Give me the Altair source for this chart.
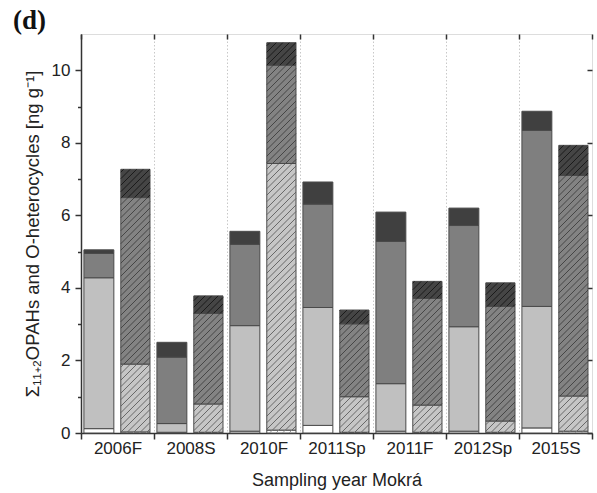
import math
import altair as alt
import pandas as pd

# ---------------- data ----------------
categories = ["2006F", "2008S", "2010F", "2011Sp", "2011F", "2012Sp", "2015S"]
components = ["white", "light", "mid", "dark"]

# segment heights [ng g-1], plain (left) bars
left_white = [0.12, 0.02, 0.05, 0.21, 0.05, 0.05, 0.14]
left_light = [4.16, 0.24, 2.91, 3.25, 1.31, 2.88, 3.35]
left_mid = [0.67, 1.83, 2.24, 2.85, 3.92, 2.79, 4.85]
left_dark = [0.10, 0.41, 0.36, 0.61, 0.81, 0.48, 0.53]

# segment heights [ng g-1], hatched (right) bars
right_white = [0.03, 0.02, 0.08, 0.02, 0.02, 0.02, 0.05]
right_light = [1.87, 0.78, 7.35, 0.98, 0.75, 0.31, 0.97]
right_mid = [4.59, 2.50, 2.71, 2.01, 2.94, 3.16, 6.08]
right_dark = [0.78, 0.48, 0.62, 0.38, 0.47, 0.65, 0.83]

# ---------------- layout / style ----------------
W, H = 511, 399
YMAX = 11
NCAT = len(categories)
sx = W / NCAT
sy = H / YMAX
HATCH = 6.5  # px between hatch lines (horizontal)

side_pos = {"L": (0.04, 0.45), "R": (0.545, 0.945)}
fill_cols = {
    "L-white": "#ffffff", "L-light": "#c0c0c0", "L-mid": "#7f7f7f", "L-dark": "#404040",
    "R-white": "#ffffff", "R-light": "#c6c6c6", "R-mid": "#838383", "R-dark": "#454545",
}
hatch_cols = {"white": "#8a8a8a", "light": "#5e5e5e", "mid": "#3e3e3e", "dark": "#161616"}

series = {
    "L": [left_white, left_light, left_mid, left_dark],
    "R": [right_white, right_light, right_mid, right_dark],
}

rows = []
hrows = []
for i, cat in enumerate(categories):
    for side in ["L", "R"]:
        a, b = side_pos[side]
        x0, x1 = i + a, i + b
        base = 0.0
        for comp, arr in zip(components, series[side]):
            top = base + arr[i]
            rows.append({"cat": cat, "key": f"{side}-{comp}", "x0": x0, "x1": x1,
                         "y0": base, "y1": top})
            if side == "R":
                X0, X1, Y0, Y1 = x0 * sx, x1 * sx, base * sy, top * sy
                k0 = math.ceil((X0 - Y1) / HATCH)
                k1 = math.floor((X1 - Y0) / HATCH)
                for k in range(k0, k1 + 1):
                    c = k * HATCH
                    ya = max(Y0, X0 - c)
                    yb = min(Y1, X1 - c)
                    if yb - ya > 0.3:
                        hrows.append({"hk": comp,
                                      "hx0": (c + ya) / sx, "hx1": (c + yb) / sx,
                                      "hy0": ya / sy, "hy1": yb / sy})
            base = top

bars_df = pd.DataFrame(rows)
hatch_df = pd.DataFrame(hrows)

FONT = "Liberation Sans"
label_arr = "[" + ",".join(f"'{c}'" for c in categories) + "]"

xscale = alt.Scale(domain=[0, NCAT], nice=False, zero=False)
yscale = alt.Scale(domain=[0, YMAX], nice=False)

bottom_axis = alt.Axis(
    values=[v / 2 for v in range(0, 2 * NCAT + 1)],
    labelExpr=f"datum.value % 1 === 0 ? '' : {label_arr}[floor(datum.value)]",
    tickOpacity={"condition": {"test": "datum.value % 1 === 0", "value": 1}, "value": 0},
    grid=True,
    gridDash=[1.5, 2],
    gridColor="#c8c8c8",
    gridWidth=1,
    gridOpacity={"condition": {"test": "datum.value % 1 === 0 && datum.value > 0 && datum.value < 7",
                               "value": 1}, "value": 0},
    tickSize=6, tickWidth=1.5, tickColor="#333333",
    domainColor="#333333", domainWidth=1.5,
    labelFont=FONT, labelFontSize=17, labelColor="#222222", labelPadding=1,
    labelFlush=False, labelOverlap=False,
    title="Sampling year Mokrá", titleFont=FONT, titleFontSize=18,
    titleFontWeight="normal", titleColor="#222222",
    titleY=52, titleBaseline="alphabetic",
)

left_axis = alt.Axis(
    values=list(range(0, 11)),
    labelExpr="datum.value % 2 === 0 ? datum.label : ''",
    tickSize={"condition": {"test": "datum.value % 2 === 0", "value": 6}, "value": 3.5},
    tickWidth=1.5, tickColor="#333333",
    domainColor="#333333", domainWidth=1.5,
    grid=False,
    labelFont=FONT, labelFontSize=17, labelColor="#222222", labelPadding=5,
    labelFlush=False, labelOverlap=False,
    title="Σ₁₁₊₂OPAHs and O-heterocycles [ng g⁻¹]", titleFont=FONT, titleFontSize=18.5,
    titleFontWeight="normal", titleColor="#222222",
    titleX=-49, titleY=H / 2, titleAngle=270, titleAlign="center", titleBaseline="middle",
)

bars = alt.Chart(bars_df).mark_rect(stroke="#4a4a4a", strokeWidth=1).encode(
    x=alt.X("x0:Q", scale=xscale, axis=bottom_axis),
    x2="x1:Q",
    y=alt.Y("y0:Q", scale=yscale, axis=left_axis),
    y2="y1:Q",
    fill=alt.Fill("key:N", scale=alt.Scale(domain=list(fill_cols.keys()),
                                           range=list(fill_cols.values())), legend=None),
)

hatch = alt.Chart(hatch_df).mark_rule(strokeWidth=0.9).encode(
    x=alt.X("hx0:Q", scale=xscale,
            axis=alt.Axis(orient="top", values=list(range(0, NCAT + 1)), labels=False,
                          domain=False, grid=False, tickSize=5, tickWidth=1.5,
                          tickColor="#333333", offset=-5, title=None)),
    x2="hx1:Q",
    y=alt.Y("hy0:Q", scale=yscale,
            axis=alt.Axis(orient="right", values=list(range(0, 11, 2)), labels=False,
                          domain=False, grid=False, tickSize=5, tickWidth=1.5,
                          tickColor="#333333", offset=-5, title=None)),
    y2="hy1:Q",
    stroke=alt.Stroke("hk:N", scale=alt.Scale(domain=list(hatch_cols.keys()),
                                              range=list(hatch_cols.values())), legend=None),
)

chart = alt.layer(bars, hatch).resolve_axis(x="independent", y="independent").properties(
    width=W, height=H,
    autosize=alt.AutoSizeParams(type="none"),
    padding={"left": 81, "top": 34, "right": 5, "bottom": 60},
    title=alt.TitleParams("(d)", anchor="start", frame="group", dx=-68, dy=29, offset=6,
                          baseline="alphabetic", font="Liberation Serif", fontSize=27,
                          fontWeight="bold", color="#111111"),
).configure_view(stroke="#333333", strokeWidth=1.5).configure(background="white")

chart.save("out.html", embed_options={"renderer": "svg", "actions": False})
